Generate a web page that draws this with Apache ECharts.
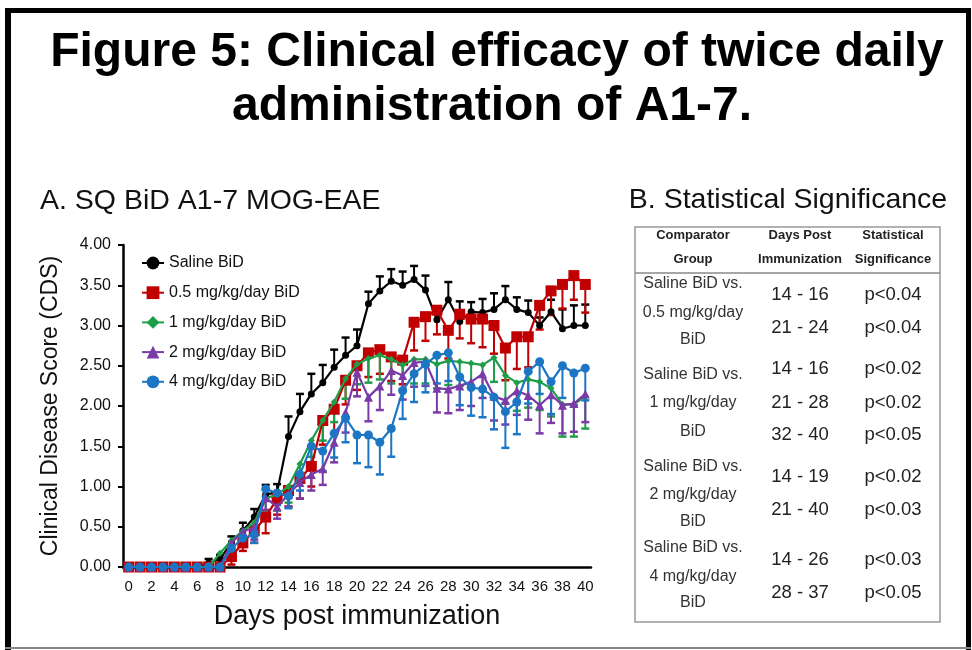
<!DOCTYPE html>
<html>
<head>
<meta charset="utf-8">
<script src="https://cdn.jsdelivr.net/npm/echarts@6/dist/echarts.min.js"></script>
<style>
html,body{margin:0;padding:0;background:#fff;}
#main{width:972px;height:650px;}
</style>
</head>
<body>
<div id="main"></div>
<script>
var days = [];
for (var d = 0; d <= 40; d++) days.push(String(d));

var seriesNames = ['Saline BiD', '0.5 mg/kg/day BiD', '1 mg/kg/day BiD', '2 mg/kg/day BiD', '4 mg/kg/day BiD'];

var saline = [0,0,0,0,0,0,0,0.05,0.1,0.3,0.45,0.62,0.9,0.93,1.62,1.93,2.15,2.29,2.48,2.63,2.75,3.27,3.43,3.55,3.50,3.57,3.44,3.07,3.32,3.05,3.17,3.16,3.20,3.32,3.20,3.16,3.00,3.17,2.96,3.00,3.00];
var salineErr = [0,0,0,0,0,0,0,0.05,0.05,0.08,0.1,0.1,0.12,0.1,0.25,0.22,0.25,0.22,0.22,0.22,0.2,0.15,0.18,0.15,0.17,0.17,0.18,0.1,0.22,0.25,0.12,0.17,0.2,0.17,0.15,0.15,0.1,0.15,0.24,0.25,0.26];

var dose05 = [0,0,0,0,0,0,0,0,0,0.13,0.3,0.45,0.62,0.85,0.95,1.1,1.25,1.82,1.96,2.32,2.5,2.66,2.70,2.61,2.57,3.04,3.11,3.19,2.94,3.14,3.08,3.08,3.00,2.72,2.86,2.86,3.25,3.43,3.51,3.62,3.51];
var dose05Err = [0,0,0,0,0,0,0,0,0,0.1,0.1,0.15,0.2,0.2,0.2,0.25,0.25,0.3,0.3,0.3,0.3,0.3,0.3,0.3,0.3,0.35,0.3,0.3,0.35,0.3,0.3,0.35,0.35,0.4,0.4,0.38,0.3,0.3,0.3,0.3,0.35];

var dose1 = [0,0,0,0,0,0,0,0,0.17,0.33,0.45,0.55,0.85,0.9,1.0,1.28,1.57,1.82,2.05,2.34,2.52,2.59,2.63,2.58,2.51,2.58,2.58,2.52,2.56,2.55,2.53,2.51,2.60,2.38,2.29,2.33,2.30,2.22,2.02,2.02,2.12];
var dose1Err = [0,0,0,0,0,0,0,0,0.05,0.1,0.1,0.15,0.15,0.2,0.2,0.2,0.2,0.25,0.25,0.25,0.25,0.3,0.3,0.3,0.3,0.3,0.3,0.3,0.3,0.3,0.3,0.3,0.3,0.35,0.35,0.35,0.35,0.35,0.4,0.4,0.4];

var dose2 = [0,0,0,0,0,0,0,0,0,0.3,0.44,0.49,0.86,0.75,0.9,1.05,1.15,1.22,1.55,1.92,2.42,2.11,2.25,2.44,2.38,2.54,2.55,2.22,2.21,2.25,2.30,2.40,2.12,2.07,2.19,2.13,2.01,2.14,2.01,2.03,2.15];
var dose2Err = [0,0,0,0,0,0,0,0,0,0.1,0.1,0.15,0.15,0.15,0.15,0.2,0.2,0.2,0.25,0.25,0.3,0.3,0.3,0.3,0.3,0.3,0.3,0.3,0.3,0.3,0.3,0.3,0.3,0.3,0.3,0.3,0.35,0.35,0.35,0.35,0.35];

var dose4 = [0,0,0,0,0,0,0,0,0,0.23,0.36,0.4,0.97,0.92,0.88,1.15,1.50,1.44,1.66,1.85,1.64,1.64,1.55,1.72,2.19,2.40,2.52,2.63,2.66,2.36,2.23,2.21,2.11,1.93,2.05,2.43,2.55,2.30,2.50,2.41,2.47];
var dose4Err = [0,0,0,0,0,0,0,0,0,0.1,0.1,0.1,0.1,0.15,0.15,0.2,0.25,0.25,0.3,0.3,0.35,0.4,0.4,0.35,0.35,0.35,0.35,0.35,0.35,0.35,0.35,0.35,0.4,0.45,0.4,0.4,0.4,0.4,0.4,0.4,0.4];

var yTicks = ['0.00','0.50','1.00','1.50','2.00','2.50','3.00','3.50','4.00'];

var tableHeader = [['Comparator','Group'],['Days Post','Immunization'],['Statistical','Significance']];
var groupLabels = [
  ['Saline BiD vs.','0.5 mg/kg/day','BiD'],
  ['Saline BiD vs.','1 mg/kg/day','BiD'],
  ['Saline BiD vs.','2 mg/kg/day','BiD'],
  ['Saline BiD vs.','4 mg/kg/day','BiD']
];
var dayRanges = [['14 - 16','21 - 24'],['14 - 16','21 - 28','32 - 40'],['14 - 19','21 - 40'],['14 - 26','28 - 37']];
var pValues = [['p<0.04','p<0.04'],['p<0.02','p<0.02','p<0.05'],['p<0.02','p<0.03'],['p<0.03','p<0.05']];

var colors = ['#000000','#c00000','#1f9e4a','#7a3aa8','#1c76c4'];
var symbols = ['circle','rect','diamond','triangle','circle'];
var symbolSizes = [7,11,7,9,9];
var values = [saline, dose05, dose1, dose2, dose4];
var errs = [salineErr, dose05Err, dose1Err, dose2Err, dose4Err];
var dirs = [1,-1,-1,-1,-1];

var chart = echarts.init(document.getElementById('main'), null, {renderer:'canvas'});
var FONT = 'Liberation Sans, Arial, sans-serif';

var series = [];
values.forEach(function(vals, si){
  var data = vals.map(function(v,i){ return [i, v, errs[si][i]]; });
  series.push({
    type:'custom',
    name: seriesNames[si] + ' err',
    data: data,
    z: 2 + si,
    silent:true,
    renderItem: function(params, api){
      var e = api.value(2);
      if (!e) return null;
      var p1 = api.coord([api.value(0), api.value(1)]);
      var p2 = api.coord([api.value(0), api.value(1) + dirs[si]*e]);
      var st = {stroke: colors[si], lineWidth: 2};
      return {type:'group', children:[
        {type:'line', shape:{x1:p1[0],y1:p1[1],x2:p2[0],y2:p2[1]}, style:st},
        {type:'line', shape:{x1:p2[0]-4,y1:p2[1],x2:p2[0]+4,y2:p2[1]}, style:{stroke:colors[si], lineWidth:2.5}}
      ]};
    }
  });
});
values.forEach(function(vals, si){
  series.push({
    type:'line',
    name: seriesNames[si],
    data: vals,
    z: 10 + si,
    symbol: symbols[si],
    symbolSize: symbolSizes[si],
    showAllSymbol: true,
    lineStyle:{color:colors[si], width:2.2},
    itemStyle:{color:colors[si], borderColor:colors[si], borderWidth:0},
    emphasis:{disabled:true},
    animation:false
  });
});

var g = [];
function txt(x,y,s,size,weight,color,align){
  g.push({type:'text', x:x, y:y, style:{text:s, x:0, y:0, fill:color||'#222', font:(weight||'normal')+' '+size+'px '+FONT, textAlign:align||'center', textVerticalAlign:'middle'}});
}
g.push({type:'rect', shape:{x:5,y:8,width:964,height:5}, style:{fill:'#000'}});
g.push({type:'rect', shape:{x:5,y:8,width:6,height:642}, style:{fill:'#000'}});
g.push({type:'rect', shape:{x:966,y:8,width:5,height:642}, style:{fill:'#000'}});
g.push({type:'rect', shape:{x:5,y:647,width:966,height:2}, style:{fill:'#888'}});
txt(497,53,'Figure 5: Clinical efficacy of twice daily',48,'bold','#000');
txt(492,107,'administration of A1-7.',48,'bold','#000');
txt(40,201,'A. SQ BiD A1-7 MOG-EAE',28.5,'normal','#111','left');
txt(788,200,'B. Statistical Significance',28.5,'normal','#111');
g.push({type:'rect', shape:{x:635,y:227,width:305,height:395}, style:{fill:'none', stroke:'#999', lineWidth:1.5}});
g.push({type:'line', shape:{x1:635,y1:273,x2:940,y2:273}, style:{stroke:'#888', lineWidth:1.5}});
var colX = [693,800,893];
tableHeader.forEach(function(h,i){ txt(colX[i],235,h[0],13,'bold','#222'); txt(colX[i],259,h[1],13,'bold','#222'); });
var grpY = [[284,313,340],[375,403,432],[467,495,522],[548,577,603]];
var numY = [[295,328],[369,403,435],[477,510],[560,593]];
groupLabels.forEach(function(gl,i){ gl.forEach(function(s,j){ txt(colX[0],grpY[i][j],s,16,'normal','#333'); }); });
dayRanges.forEach(function(dr,i){ dr.forEach(function(s,j){ txt(colX[1],numY[i][j],s,18.5,'normal','#222'); txt(colX[2],numY[i][j],pValues[i][j],18.5,'normal','#222'); }); });

var option = {
  animation:false,
  backgroundColor:'#fff',
  textStyle:{fontFamily:FONT},
  grid:{left:123, right:381, top:245, bottom:83, containLabel:false},
  legend:{
    data: seriesNames,
    orient:'vertical', left:136, top:250,
    itemGap:13.7, itemWidth:22, itemHeight:16,
    textStyle:{fontSize:16, color:'#111', fontFamily:FONT},
    selectedMode:false
  },
  xAxis:{
    type:'category', data:days, boundaryGap:true,
    name:'Days post immunization', nameLocation:'middle', nameGap:36,
    nameTextStyle:{fontSize:27, color:'#111', fontFamily:FONT},
    axisLine:{lineStyle:{color:'#000', width:2.5}},
    axisTick:{show:false},
    axisLabel:{interval:1, fontSize:15, color:'#111', margin:12, fontFamily:FONT}
  },
  yAxis:{
    type:'value', min:0, max:4, interval:0.5,
    name:'Clinical Disease Score (CDS)', nameLocation:'middle', nameGap:61,
    nameTextStyle:{fontSize:23, color:'#111', fontFamily:FONT},
    axisLine:{show:true, lineStyle:{color:'#000', width:2.5}},
    axisTick:{show:true, length:5, lineStyle:{color:'#000', width:2}},
    splitLine:{show:false},
    axisLabel:{fontSize:16, color:'#111', margin:12, fontFamily:FONT,
      formatter:function(v){ return yTicks[Math.round(v/0.5)]; }}
  },
  graphic: g,
  series: series
};
chart.setOption(option);
</script>
</body>
</html>
